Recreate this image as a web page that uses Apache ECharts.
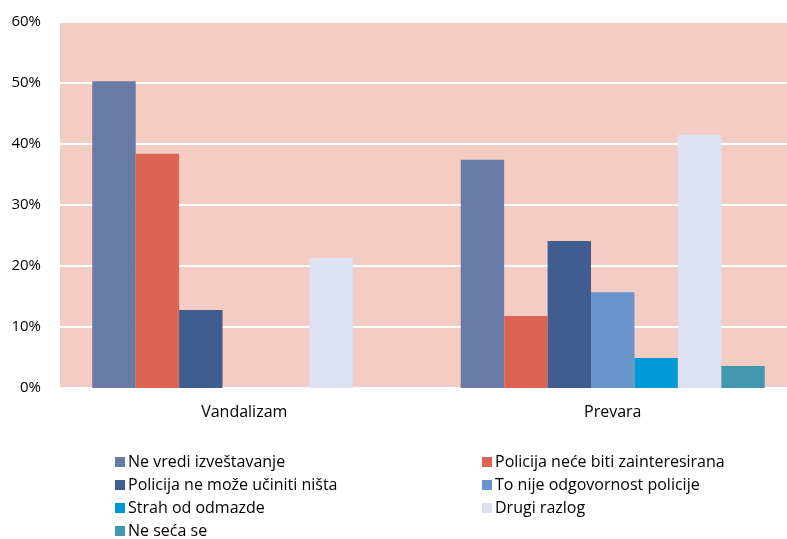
<!DOCTYPE html>
<html>
<head>
<meta charset="utf-8">
<script src="https://cdn.jsdelivr.net/npm/echarts@6/dist/echarts.min.js"></script>
<style>
  html, body { margin: 0; padding: 0; background: #fff; overflow: hidden; }
  /* plot area runs a little past the right edge, as in the original crop */
  #chart { width: 797px; height: 539px; }
</style>
</head>
<body>
<div id="chart"></div>
<script>
// kategorije i serije (vrednosti u %)
var categories = ['Vandalizam', 'Prevara']
var seriesNames = [
  'Ne vredi izveštavanje',
  'Policija neće biti zainteresirana',
  'Policija ne može učiniti ništa',
  'To nije odgovornost policije',
  'Strah od odmazde',
  'Drugi razlog',
  'Ne seća se'
]
var neVredi = [50.3, 37.4]
var policijaNece = [38.4, 11.8]
var policijaNeMoze = [12.8, 24.1]
var toNije = [0, 15.7]
var strah = [0, 4.9]
var drugi = [21.3, 41.5]
var neSeca = [0, 3.6]
var colors = ['#687aa6', '#dc6454', '#415c8f', '#6994cc', '#0098d6', '#dee1f2', '#4397af']

var values = [neVredi, policijaNece, policijaNeMoze, toNije, strah, drugi, neSeca]
var font = 'Open Sans'

function legendCol (left, names) {
  return {
    orient: 'vertical', left: left, top: 454, padding: 0, height: 90,
    itemWidth: 10, itemHeight: 10, itemGap: 7,
    icon: 'rect',
    data: names,
    textStyle: { fontFamily: font, fontSize: 16, lineHeight: 16, color: '#000', padding: [0, 0, 0, -2] }
  }
}

var chart = echarts.init(document.getElementById('chart'))
chart.setOption({
  animation: false,
  color: colors,
  grid: {
    left: 60, right: 0, top: 22, bottom: 151,
    show: true, backgroundColor: '#f3ccc3', borderWidth: 0
  },
  legend: [
    legendCol(115, [seriesNames[0], seriesNames[2], seriesNames[4], seriesNames[6]]),
    legendCol(482, [seriesNames[1], seriesNames[3], seriesNames[5]])
  ],
  xAxis: {
    type: 'category',
    data: categories,
    axisLine: { show: false },
    axisTick: { show: false },
    axisLabel: { fontFamily: font, fontSize: 16, color: '#000', margin: 16 }
  },
  yAxis: {
    type: 'value',
    min: 0, max: 60, interval: 10,
    axisLabel: { formatter: '{value}%', fontFamily: font, fontSize: 15, color: '#000', margin: 19 },
    splitLine: { lineStyle: { color: '#ffffff', width: 2 } }
  },
  series: seriesNames.map(function (name, i) {
    return {
      name: name,
      type: 'bar',
      data: values[i],
      barGap: '0%',
      barCategoryGap: '17.5%'
    }
  })
})
</script>
</body>
</html>
